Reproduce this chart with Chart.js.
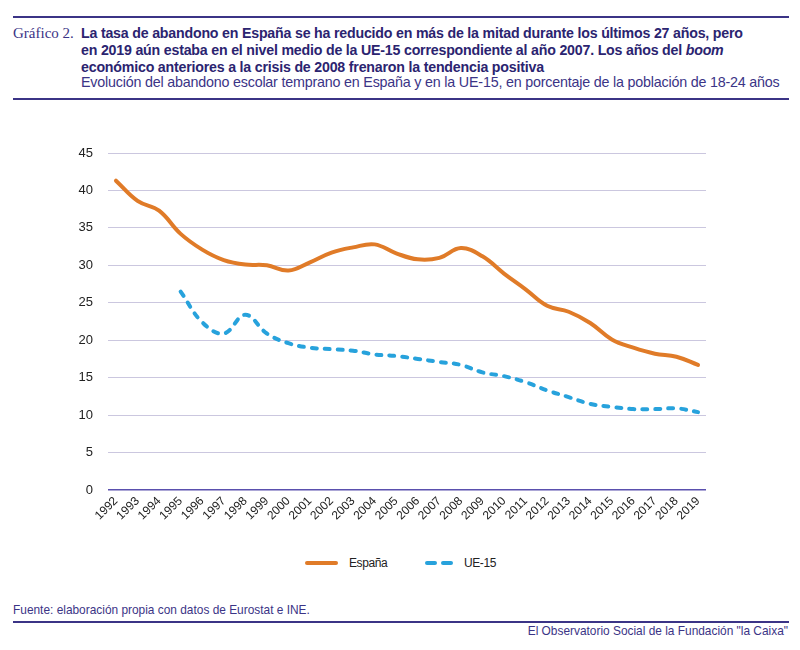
<!DOCTYPE html>
<html lang="es">
<head>
<meta charset="utf-8">
<script src="https://cdn.jsdelivr.net/npm/chart.js@4.4.1/dist/chart.umd.min.js"></script>
<style>
  body { margin: 0; background: #fff; font-family: 'Liberation Sans', Arial, sans-serif; }
  #page { position: relative; width: 800px; height: 650px; overflow: hidden; }
  .rule { position: absolute; left: 13px; width: 776px; height: 2px; background: #3b3486; }
  #label { position: absolute; left: 13px; top: 24px; font-family: 'Liberation Serif', serif; font-size: 15px; line-height: 18px; color: #3b3486; }
  #title { position: absolute; left: 81px; top: 24.5px; font-size: 14.2px; font-weight: bold; line-height: 17px; color: #2b2470; letter-spacing: -0.2px; white-space: nowrap; }
  #subtitle { position: absolute; left: 81px; top: 73px; font-size: 14.3px; line-height: 18px; color: #3b3486; letter-spacing: -0.2px; white-space: nowrap; }
  #chartBox { position: absolute; left: 0; top: 130px; width: 740px; height: 400px; }
  #legend { position: absolute; top: 555px; left: 0; font-size: 12px; line-height: 16px; color: #222; }
  .item { position: absolute; top: 0; white-space: nowrap; letter-spacing: -0.4px; }
  .swatch { position: absolute; top: 6px; height: 4px; border-radius: 2px; }
  #source { position: absolute; left: 13px; top: 602px; font-size: 11.9px; line-height: 16px; color: #3b3486; white-space: nowrap; }
  #brand { position: absolute; right: 12px; top: 623px; font-size: 11.9px; line-height: 16px; color: #3b3486; white-space: nowrap; }
</style>
</head>
<body>
<div id="page">
  <div class="rule" style="top:16px"></div>
  <div id="label">Gráfico 2.</div>
  <div id="title">La tasa de abandono en España se ha reducido en más de la mitad durante los últimos 27 años, pero<br>en 2019 aún estaba en el nivel medio de la UE-15 correspondiente al año 2007. Los años del <i>boom</i><br>económico anteriores a la crisis de 2008 frenaron la tendencia positiva</div>
  <div id="subtitle">Evolución del abandono escolar temprano en España y en la UE-15, en porcentaje de la población de 18-24 años</div>
  <div class="rule" style="top:98px"></div>

  <div id="chartBox"><canvas id="lineChart"></canvas></div>

  <div id="legend">
    <span class="swatch" style="left:305px;width:33px;background:#e07b28"></span>
    <span class="item" style="left:349px">España</span>
    <span class="swatch" style="left:425px;width:12px;background:#27a2dc"></span>
    <span class="swatch" style="left:441px;width:12px;background:#27a2dc"></span>
    <span class="item" style="left:464px">UE-15</span>
  </div>

  <div id="source">Fuente: elaboración propia con datos de Eurostat e INE.</div>
  <div class="rule" style="top:621px"></div>
  <div id="brand">El Observatorio Social de la Fundación "la Caixa"</div>
</div>
<script>
const years = [1992, 1993, 1994, 1995, 1996, 1997, 1998, 1999, 2000, 2001, 2002, 2003, 2004, 2005,
               2006, 2007, 2008, 2009, 2010, 2011, 2012, 2013, 2014, 2015, 2016, 2017, 2018, 2019];
const espana = [41.3, 38.6, 37.3, 34.2, 32.1, 30.7, 30.1, 30.0, 29.3, 30.4, 31.7, 32.4, 32.8, 31.6,
                30.8, 31.0, 32.3, 31.2, 28.9, 26.8, 24.6, 23.8, 22.3, 20.1, 19.0, 18.2, 17.8, 16.7];
const ue15 = [null, null, null, 26.5, 22.4, 20.9, 23.4, 20.9, 19.6, 19.0, 18.8, 18.6, 18.1, 17.9,
              17.5, 17.1, 16.7, 15.7, 15.2, 14.4, 13.3, 12.4, 11.5, 11.1, 10.8, 10.8, 10.9, 10.4];
const yTicks = [0, 5, 10, 15, 20, 25, 30, 35, 40, 45];

const toPoints = arr => years.map((yr, i) => ({ x: yr, y: arr[i] }));

const ctx = document.getElementById('lineChart').getContext('2d');
new Chart(ctx, {
    type: 'line',
    data: {
        datasets: [
            {
                label: 'España',
                data: toPoints(espana),
                borderColor: '#e07b28',
                borderWidth: 4,
                borderCapStyle: 'round',
                borderJoinStyle: 'round',
                pointRadius: 0,
                tension: 0.4,
                fill: false
            },
            {
                label: 'UE-15',
                data: toPoints(ue15),
                borderColor: '#27a2dc',
                borderWidth: 4,
                borderDash: [5, 8],
                borderCapStyle: 'round',
                pointRadius: 0,
                tension: 0.4,
                spanGaps: false,
                fill: false
            }
        ]
    },
    options: {
        responsive: true,
        maintainAspectRatio: false,
        animation: false,
        layout: { padding: { top: 23, right: 34, left: 0, bottom: 0 } },
        plugins: {
            legend: { display: false },
            tooltip: { enabled: false }
        },
        scales: {
            x: {
                type: 'linear',
                min: 1991.63,
                max: 2019.37,
                afterFit: s => { s.height = 40; },
                grid: { display: false, drawTicks: false },
                border: { display: false },
                ticks: {
                    stepSize: 1,
                    includeBounds: false,
                    autoSkip: false,
                    maxRotation: 45,
                    minRotation: 45,
                    padding: 4,
                    color: '#222',
                    font: { family: "'Liberation Sans', Arial, sans-serif", size: 12 },
                    callback: v => String(v)
                }
            },
            y: {
                min: 0,
                max: 45,
                afterFit: s => { s.width = 108; },
                afterBuildTicks: s => { s.ticks = yTicks.map(v => ({ value: v })); },
                grid: {
                    drawTicks: false,
                    color: c => c.tick && c.tick.value === 0 ? '#5a50ae' : '#cbc7df',
                    lineWidth: c => c.tick && c.tick.value === 0 ? 1.5 : 1
                },
                border: { display: false },
                ticks: {
                    padding: 15,
                    color: '#222',
                    font: { family: "'Liberation Sans', Arial, sans-serif", size: 13 }
                }
            }
        }
    }
});
</script>
</body>
</html>
